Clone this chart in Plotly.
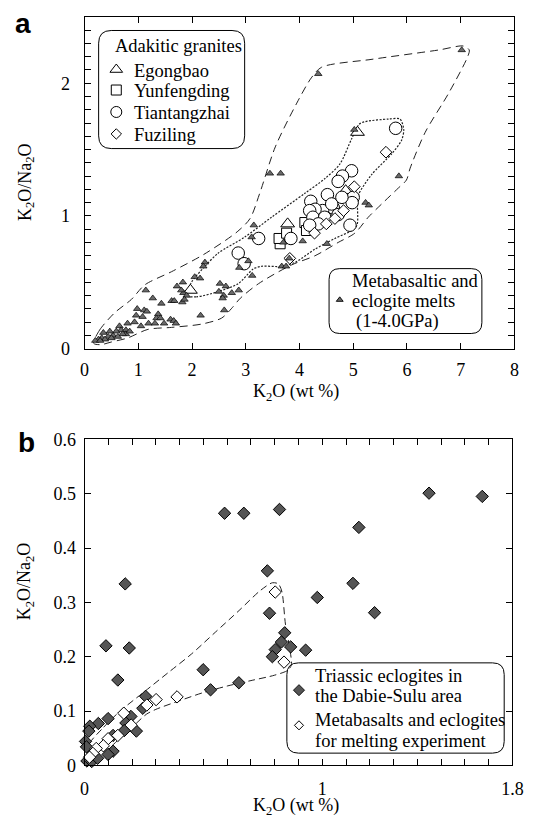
import plotly.graph_objects as go

W, H = 538, 829
SERIF = "'Liberation Serif', 'Times New Roman', Times, serif"

# ---------------- Panel a data ----------------
melt_x = [7.02, 4.35, 5.02, 3.45, 3.65, 5.85, 5.23, 5.29, 4.06, 3.70, 4.51, 3.81, 3.67, 3.75,
          3.15, 3.11, 2.24, 2.21, 2.05, 2.15, 1.83, 1.72, 1.84, 1.90, 1.82, 2.52, 2.63, 2.50,
          2.59, 2.57, 2.74, 2.87, 2.88, 3.05, 3.12, 2.60, 2.16, 1.14, 1.27, 1.43, 1.62, 1.67,
          0.98, 1.11, 1.16, 0.96, 1.08, 1.37, 1.34, 1.41, 1.19, 1.05, 0.93, 1.31, 1.48, 1.60,
          1.66, 1.70, 0.80, 0.65, 0.68, 0.77, 0.77, 0.59, 0.53, 0.44, 0.35, 0.32, 0.26, 0.38,
          0.50, 0.20, 0.29, 0.71, 0.62, 0.47, 0.84, 1.86, 1.80]
melt_y = [2.25, 2.07, 1.65, 1.32, 1.32, 1.30, 1.10, 1.08, 0.81, 0.80, 0.79, 0.68, 0.62, 0.62,
          0.93, 0.84, 0.65, 0.62, 0.54, 0.53, 0.50, 0.47, 0.42, 0.40, 0.35, 0.49, 0.47, 0.43,
          0.40, 0.38, 0.42, 0.44, 0.61, 0.66, 0.55, 0.29, 0.25, 0.44, 0.38, 0.34, 0.36, 0.36,
          0.30, 0.29, 0.28, 0.25, 0.24, 0.26, 0.23, 0.23, 0.19, 0.17, 0.20, 0.19, 0.19, 0.22,
          0.21, 0.19, 0.19, 0.17, 0.14, 0.14, 0.11, 0.13, 0.10, 0.09, 0.12, 0.08, 0.07, 0.07,
          0.08, 0.06, 0.06, 0.11, 0.09, 0.13, 0.13, 0.37, 0.44]

egong_x = [5.08, 3.78, 1.97, 4.86]
egong_y = [1.63, 0.94, 0.44, 1.19]

yunf_x = [3.64, 3.62, 3.76, 4.10, 4.13]
yunf_y = [0.79, 0.83, 0.87, 0.95, 0.89]

tian_x = [5.79, 4.97, 4.80, 4.72, 4.52, 5.00, 4.98, 4.21, 4.63, 4.43, 4.29, 4.19, 4.25, 4.47,
          4.72, 4.35, 4.19, 4.94, 3.24, 3.84, 2.86, 2.97, 4.60, 4.79]
tian_y = [1.66, 1.34, 1.30, 1.26, 1.16, 1.14, 1.10, 1.11, 1.06, 1.04, 1.05, 1.04, 0.99, 0.99,
          1.01, 0.94, 0.93, 0.93, 0.83, 0.83, 0.72, 0.64, 1.09, 1.14]

fuz_x = [5.61, 5.02, 4.50, 4.66, 4.28, 3.82, 4.82]
fuz_y = [1.48, 1.22, 0.94, 0.98, 0.87, 0.68, 1.04]

# field outlines (panel a)
melt_field_x = [0.17, 0.28, 0.56, 0.87, 1.12, 1.62, 2.22, 2.84, 3.08, 3.26, 3.55, 3.95, 4.22,
                4.41, 5.35, 6.59, 7.05, 7.16, 7.12, 6.77, 6.34, 6.06, 5.99, 5.84, 5.53, 5.28,
                5.03, 4.72, 4.29, 3.85, 3.24, 2.90, 2.73, 2.55, 2.18, 1.62, 1.18, 0.80, 0.50,
                0.30, 0.17]
melt_field_y = [0.04, 0.14, 0.27, 0.37, 0.48, 0.58, 0.71, 0.88, 0.98, 1.17, 1.52, 1.85, 2.04,
                2.12, 2.18, 2.25, 2.28, 2.25, 2.19, 1.92, 1.63, 1.36, 1.27, 1.21, 1.09, 0.99,
                0.87, 0.80, 0.70, 0.63, 0.49, 0.38, 0.30, 0.23, 0.185, 0.16, 0.145, 0.08, 0.05,
                0.03, 0.04]

adak_field_x = [1.90, 2.08, 2.49, 2.86, 3.14, 3.29, 3.67, 3.92, 4.29, 4.66, 4.97, 5.07, 5.08,
                5.10, 5.34, 5.72, 5.90, 5.94, 5.87, 5.66, 5.22, 5.11, 4.97, 4.75, 4.47, 4.10,
                3.48, 2.98, 2.49, 2.24, 1.99, 1.90]
adak_field_y = [0.40, 0.39, 0.43, 0.49, 0.60, 0.62, 0.62, 0.65, 0.75, 0.83, 0.89, 0.93, 1.09,
                1.16, 1.31, 1.47, 1.57, 1.65, 1.73, 1.73, 1.71, 1.69, 1.58, 1.39, 1.28, 1.17,
                0.99, 0.84, 0.72, 0.62, 0.50, 0.40]

# ---------------- Panel b data ----------------
ecl_x = [1.449, 1.673, 1.154, 0.589, 0.670, 0.820, 0.769, 0.171, 1.129, 0.979, 1.220, 0.778,
         0.842, 0.828, 0.802, 0.867, 0.930, 0.790, 0.090, 0.188, 0.499, 0.140, 0.649, 0.530,
         0.257, 0.245, 0.099, 0.195, 0.058, 0.022, 0.018, 0.174, 0.167, 0.218, 0.120, 0.004,
         0.008, 0.120, 0.099, 0.010, 0.030, 0.055]
ecl_y = [0.501, 0.495, 0.438, 0.464, 0.464, 0.471, 0.358, 0.334, 0.335, 0.309, 0.281, 0.280,
         0.244, 0.227, 0.213, 0.218, 0.212, 0.200, 0.220, 0.216, 0.176, 0.157, 0.152, 0.139,
         0.127, 0.105, 0.086, 0.090, 0.077, 0.072, 0.063, 0.078, 0.064, 0.063, 0.055, 0.044,
         0.034, 0.026, 0.020, 0.008, 0.007, 0.013]

exp_x = [0.802, 0.839, 0.389, 0.301, 0.262, 0.165, 0.196, 0.099, 0.140, 0.079, 0.049, 0.035,
         0.021]
exp_y = [0.319, 0.190, 0.126, 0.121, 0.111, 0.096, 0.074, 0.049, 0.055, 0.036, 0.031, 0.022,
         0.015]

exp_field_x = [0.015, 0.08, 0.15, 0.25, 0.35, 0.45, 0.55, 0.65, 0.74, 0.79, 0.815, 0.83,
               0.845, 0.865, 0.87, 0.855, 0.80, 0.70, 0.60, 0.50, 0.40, 0.30, 0.26, 0.20,
               0.13, 0.07, 0.03, 0.015]
exp_field_y = [0.035, 0.07, 0.10, 0.135, 0.17, 0.205, 0.245, 0.285, 0.322, 0.336, 0.334,
               0.32, 0.26, 0.21, 0.185, 0.175, 0.166, 0.156, 0.146, 0.134, 0.119, 0.103,
               0.094, 0.07, 0.042, 0.017, 0.004, 0.035]

# tick values
a_xticks = list(range(0, 9))
a_yticks = [round(i * 0.1, 1) for i in range(26)]
a_ylabels = [str(int(v)) if v in (0, 1, 2) else "" for v in a_yticks]
b_xticks = [round(i * 0.1, 1) for i in range(19)]
b_xlabels = ["0" if v == 0 else ("1" if v == 1 else ("1.8" if v == 1.8 else "")) for v in b_xticks]
b_yticks = [round(i * 0.1, 1) for i in range(7)]
b_ylabels = ["0" if v == 0 else f"{v:.1f}" for v in b_yticks]

fig = go.Figure()

line_k = dict(color="black", width=1)

# Panel a fields
fig.add_trace(go.Scatter(x=melt_field_x, y=melt_field_y, mode="lines", xaxis="x", yaxis="y",
                         line=dict(color="#222", width=1, dash="8px,5px", shape="spline",
                                   smoothing=0.8), hoverinfo="skip"))
fig.add_trace(go.Scatter(x=adak_field_x, y=adak_field_y, mode="lines", xaxis="x", yaxis="y",
                         line=dict(color="#222", width=1.2, dash="2px,1.5px", shape="spline",
                                   smoothing=0.8), hoverinfo="skip"))
# Panel a markers
fig.add_trace(go.Scatter(x=egong_x, y=egong_y, mode="markers", xaxis="x", yaxis="y", cliponaxis=False,
                         marker=dict(symbol="triangle-up", size=12, color="white", line=line_k)))
fig.add_trace(go.Scatter(x=yunf_x, y=yunf_y, mode="markers", xaxis="x", yaxis="y", cliponaxis=False,
                         marker=dict(symbol="square", size=10, color="white", line=line_k)))
fig.add_trace(go.Scatter(x=tian_x, y=tian_y, mode="markers", xaxis="x", yaxis="y", cliponaxis=False,
                         marker=dict(symbol="circle", size=12.5, color="white", line=line_k)))
fig.add_trace(go.Scatter(x=fuz_x, y=fuz_y, mode="markers", xaxis="x", yaxis="y", cliponaxis=False,
                         marker=dict(symbol="diamond", size=9, color="white", line=line_k)))
fig.add_trace(go.Scatter(x=melt_x, y=melt_y, mode="markers", xaxis="x", yaxis="y", cliponaxis=False,
                         marker=dict(symbol="triangle-up", size=6.5, color="#6a6a6a",
                                     line=dict(color="black", width=0.7))))

# Panel b
fig.add_trace(go.Scatter(x=exp_field_x, y=exp_field_y, mode="lines", xaxis="x2", yaxis="y2",
                         line=dict(color="#222", width=1, dash="7px,4px", shape="spline",
                                   smoothing=0.8), hoverinfo="skip"))
fig.add_trace(go.Scatter(x=ecl_x, y=ecl_y, mode="markers", xaxis="x2", yaxis="y2", cliponaxis=False,
                         marker=dict(symbol="diamond", size=9.5, color="#555555", line=line_k)))
fig.add_trace(go.Scatter(x=exp_x, y=exp_y, mode="markers", xaxis="x2", yaxis="y2", cliponaxis=False,
                         marker=dict(symbol="diamond", size=9.5, color="white", line=line_k)))

# Legend glyphs on a pixel overlay axis
leg_sym = [("triangle-up", 11, "white", 114.7, 61),
           ("square", 10, "white", 114.7, 82),
           ("circle", 11, "white", 114.7, 104.5),
           ("diamond", 8, "white", 114.7, 127),
           ("triangle-up", 6, "#6a6a6a", 345, 297),
           ("diamond", 8.5, "#555555", 303, 697),
           ("diamond", 7, "white", 303, 733)]
for sym, sz, col, px, py in leg_sym:
    fig.add_trace(go.Scatter(x=[px], y=[py], mode="markers", xaxis="x3", yaxis="y3",
                             marker=dict(symbol=sym, size=sz, color=col,
                                         line=dict(color="black", width=0.9 if col != "white" else 1)),
                             hoverinfo="skip"))


def rrect(x0, y0, x1, y1, r):
    return (f"M{x0 + r},{y0} L{x1 - r},{y0} Q{x1},{y0} {x1},{y0 + r} "
            f"L{x1},{y1 - r} Q{x1},{y1} {x1 - r},{y1} L{x0 + r},{y1} "
            f"Q{x0},{y1} {x0},{y1 - r} L{x0},{y0 + r} Q{x0},{y0} {x0 + r},{y0} Z")


shapes = [
    dict(type="path", path=rrect(96.5, 21, 247, 142, 13), xref="x3", yref="y3",
         line=dict(color="black", width=1)),
    dict(type="path", path=rrect(334, 265, 491.5, 331.5, 11), xref="x3", yref="y3",
         line=dict(color="black", width=1)),
    dict(type="path", path=rrect(290.5, 669, 514.5, 761.5, 12), xref="x3", yref="y3",
         line=dict(color="black", width=1)),
]

tf = dict(family=SERIF, size=18, color="black")
ann = []


def txt(s, x, y, anchor="left", size=18.5, angle=0, font=None):
    ann.append(dict(text=s, x=x, y=y, xref="x3", yref="y3", xanchor=anchor, yanchor="middle",
                    showarrow=False, textangle=angle,
                    font=font or dict(family=SERIF, size=size, color="black")))


txt("Adakitic granites", 111, 37)
txt("Egongbao", 131, 62)
txt("Yunfengding", 131, 83.5)
txt("Tiantangzhai", 131, 105.5)
txt("Fuziling", 131, 128)
txt("Metabasaltic and", 356, 278)
txt("eclogite melts", 356, 298)
txt("(1-4.0GPa)", 360, 319)
txt("Triassic eclogites in", 317, 682)
txt("the Dabie-Sulu area", 317, 703)
txt("Metabasalts and eclogites", 317, 728)
txt("for melting experiment", 317, 749)
# axis titles
txt("K<sub>2</sub>O (wt %)", 300, 392, anchor="center", size=18)
txt("K<sub>2</sub>O/Na<sub>2</sub>O", 22, 176, anchor="center", angle=-90, size=18)
txt("K<sub>2</sub>O (wt %)", 300, 816, anchor="center", size=18)
txt("K<sub>2</sub>O/Na<sub>2</sub>O", 22, 585, anchor="center", angle=-90, size=18)
# panel letters
sans = dict(family="'Liberation Sans', Arial, sans-serif", size=28, color="black", weight="bold")
txt("<b>a</b>", 19, 14, anchor="center", font=sans)
txt("<b>b</b>", 22, 443, anchor="center", font=sans)

ax_common = dict(showline=True, mirror="ticks", linecolor="black", linewidth=1,
                 ticks="inside", ticklen=6, tickwidth=1, tickcolor="black",
                 showgrid=False, zeroline=False, tickfont=tf, fixedrange=True)

fig.update_layout(
    width=W, height=H, margin=dict(l=0, r=0, t=0, b=0),
    paper_bgcolor="white", plot_bgcolor="rgba(0,0,0,0)", showlegend=False,
    font=dict(family=SERIF),
    xaxis=dict(domain=[82 / W, 525 / W], range=[0, 8], anchor="y",
               tickvals=a_xticks, ticktext=[str(v) for v in a_xticks],
               ticklabelstandoff=5, **ax_common),
    yaxis=dict(domain=[1 - 347 / H, 1 - 7 / H], range=[0, 2.5], anchor="x",
               tickvals=a_yticks, ticktext=a_ylabels, ticklabelstandoff=10, **ax_common),
    xaxis2=dict(domain=[82 / W, 523 / W], range=[0, 1.8], anchor="y2",
                tickvals=b_xticks, ticktext=b_xlabels, ticklabelstandoff=7, **ax_common),
    yaxis2=dict(domain=[1 - 774 / H, 1 - 440 / H], range=[0, 0.6], anchor="x2",
                tickvals=b_yticks, ticktext=b_ylabels, ticklabelstandoff=4, **ax_common),
    xaxis3=dict(domain=[0, 1], range=[0, W], anchor="y3", visible=False, fixedrange=True),
    yaxis3=dict(domain=[0, 1], range=[H, 0], anchor="x3", visible=False, fixedrange=True),
    shapes=shapes, annotations=ann,
)

fig.write_html("out.html")
